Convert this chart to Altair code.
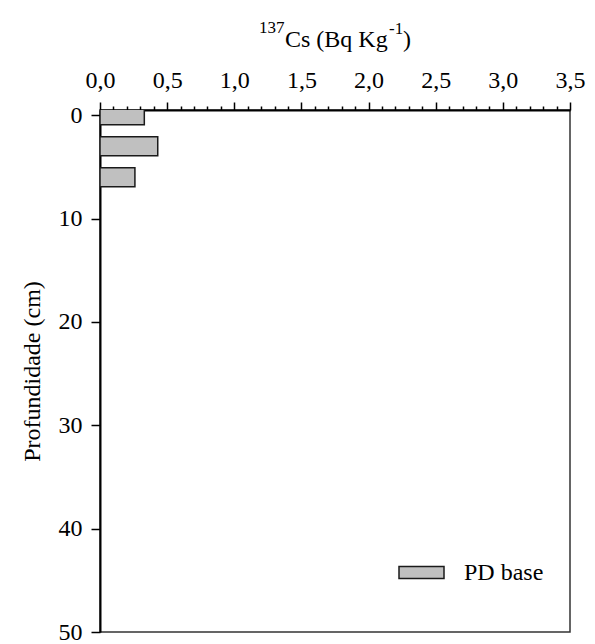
import altair as alt
import pandas as pd

# ---- data ----
depth_cm = [0, 3, 6]
cs137 = [0.33, 0.43, 0.26]
series = ["PD base", "PD base", "PD base"]

x_tick_values = [round(i * 0.1, 1) for i in range(36)]
y_tick_values = [0, 10, 20, 30, 40, 50]

# x-axis title pieces: superscript, normal, superscript, normal
title_parts = ["137", "Cs (Bq Kg", "-1", ")"]

df = pd.DataFrame({"depth": depth_cm, "cs": cs137, "serie": series})

FONT = "Liberation Serif"
FS = 24
FS_SUP = 17
HALF_BAR = 0.92  # half thickness of each depth layer bar (cm)

major = "abs(round(datum.value * 10) % 5) < 0.01"

bars = (
    alt.Chart(df)
    .transform_calculate(
        top=f"datum.depth - {HALF_BAR}",
        bot=f"datum.depth + {HALF_BAR}",
        zero="0",
    )
    .mark_rect(stroke="#1a1a1a", strokeWidth=1.5, clip=True, opacity=1)
    .encode(
        x=alt.X(
            "zero:Q",
            scale=alt.Scale(domain=[0, 3.5], nice=False),
            axis=alt.Axis(
                orient="top",
                values=x_tick_values,
                labelExpr=f"{major} ? replace(format(datum.value, '.1f'), '.', ',') : ''",
                tickSize={"condition": {"test": major, "value": 8}, "value": 4},
                labelOverlap=False,
                labelFlush=False,
                labelPadding=10,
                title=None,
                grid=False,
            ),
        ),
        x2="cs:Q",
        y=alt.Y(
            "top:Q",
            scale=alt.Scale(domain=[-0.5, 50], reverse=True, nice=False, zero=False),
            axis=alt.Axis(
                values=y_tick_values,
                tickSize=9,
                labelPadding=9,
                title="Profundidade (cm)",
                titlePadding=14,
                titleFontSize=FS,
                grid=False,
            ),
        ),
        y2="bot:Q",
        color=alt.Color(
            "serie:N",
            scale=alt.Scale(range=["#c0c0c0"]),
            legend=alt.Legend(
                title=None,
                orient="none",
                legendX=298,
                legendY=439,
                symbolType="M-1,-0.267H1V0.267H-1Z",
                symbolSize=2025,
                symbolStrokeColor="#1a1a1a",
                symbolStrokeWidth=1.5,
                symbolOpacity=1,
                labelFont=FONT,
                labelFontSize=FS,
                labelColor="#000",
                labelOffset=19,
                padding=0,
            ),
        ),
    )
)


def title_piece(text, size, xpos, ypos):
    return (
        alt.Chart(pd.DataFrame({"label": [text]}))
        .mark_text(font=FONT, fontSize=size, align="left", baseline="alphabetic", color="#000")
        .encode(text="label:N", x=alt.value(xpos), y=alt.value(ypos))
    )


title_layers = [
    title_piece(title_parts[0], FS_SUP, 159, -77),
    title_piece(title_parts[1], FS, 185, -63),
    title_piece(title_parts[2], FS_SUP, 289, -76),
    title_piece(title_parts[3], FS, 303, -63),
]

chart = (
    alt.layer(bars, *title_layers)
    .properties(
        width=470,
        height=522,
        autosize=alt.AutoSizeParams(type="none"),
        padding={"left": 100, "top": 110, "right": 25, "bottom": 12},
        background="white",
    )
    .configure_view(stroke="#333", strokeWidth=1.5)
    .configure_axis(
        domainColor="#000",
        domainWidth=2,
        tickColor="#000",
        tickWidth=1.5,
        labelFont=FONT,
        labelFontSize=FS,
        labelColor="#000",
        titleFont=FONT,
        titleFontWeight="normal",
        titleColor="#000",
    )
)

chart.save("out.html", embed_options={"renderer": "svg", "actions": False})
